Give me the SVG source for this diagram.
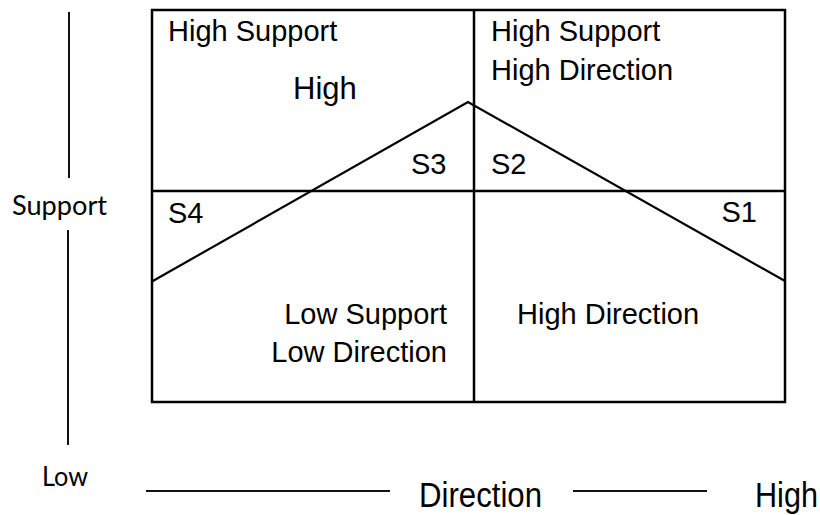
<svg xmlns="http://www.w3.org/2000/svg" width="820" height="515" viewBox="0 0 820 515">
  <style>
    .grid { stroke: #000; stroke-width: 2.5; fill: none; }
    .curve { stroke: #000; stroke-width: 2.2; fill: none; stroke-linejoin: miter; }
    .axis { stroke: #111; stroke-width: 2; fill: none; }
    .t { font-family: "Liberation Sans", Arial, sans-serif; font-size: 29px; fill: #000; }
    .c { font-family: Lato, "Open Sans", sans-serif; font-size: 26px; fill: #000; }
  </style>
  <rect width="820" height="515" fill="#fff"/>

  <g id="grid">
    <rect class="grid" x="152" y="10" width="633" height="392"/>
    <line class="grid" x1="474" y1="10" x2="474" y2="402"/>
    <line class="grid" x1="152" y1="191" x2="785" y2="191"/>
  </g>

  <g id="connectors">
    <polyline class="curve" points="152,281.5 468,102 785,281"/>
  </g>

  <g id="q-top-left">
    <text class="t" x="168" y="41">High Support</text>
    <text class="t" x="293" y="99" style="font-size:31px">High</text>
    <text class="t" x="411" y="174">S3</text>
  </g>
  <g id="q-top-right">
    <text class="t" x="491" y="41">High Support</text>
    <text class="t" x="491" y="80">High Direction</text>
    <text class="t" x="491" y="174">S2</text>
  </g>
  <g id="q-bottom-left">
    <text class="t" x="168" y="223">S4</text>
    <text class="t" x="447" y="324" text-anchor="end">Low Support</text>
    <text class="t" x="447" y="362" text-anchor="end">Low Direction</text>
  </g>
  <g id="q-bottom-right">
    <text class="t" x="757" y="222" text-anchor="end">S1</text>
    <text class="t" x="517" y="324">High Direction</text>
  </g>

  <g id="support-axis">
    <line class="axis" x1="69" y1="12" x2="69" y2="178"/>
    <text class="c" x="12" y="215" textLength="95" lengthAdjust="spacingAndGlyphs">Support</text>
    <line class="axis" x1="68" y1="230" x2="68" y2="445"/>
    <text class="c" x="42" y="486" textLength="46" lengthAdjust="spacingAndGlyphs">Low</text>
  </g>

  <g id="direction-axis">
    <line class="axis" x1="146" y1="491" x2="390" y2="491" stroke="#333"/>
    <text class="t" transform="translate(419,507) scale(1,1.15)" x="0" y="0" style="font-size:31px" textLength="123" lengthAdjust="spacingAndGlyphs">Direction</text>
    <line class="axis" x1="573" y1="491" x2="707" y2="491" stroke="#333"/>
    <text class="t" transform="translate(755,507) scale(1,1.15)" x="0" y="0" style="font-size:31px" textLength="63" lengthAdjust="spacingAndGlyphs">High</text>
  </g>
</svg>
